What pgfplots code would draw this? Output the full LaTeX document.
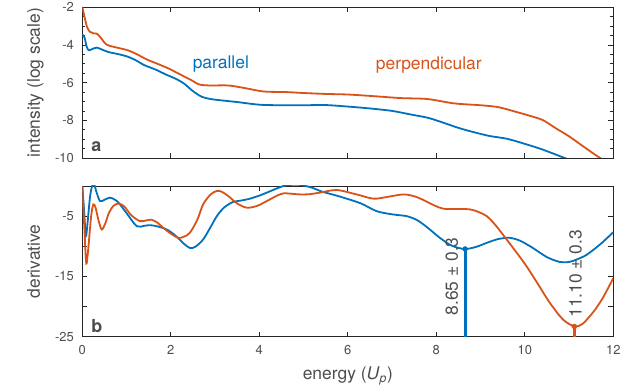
\documentclass[border=0pt]{standalone}
\usepackage{pgfplots}
\pgfplotsset{compat=1.18}
\usepackage{fontspec}
\setmainfont{TeX Gyre Heros}
\definecolor{mblue}{HTML}{0072BD}
\definecolor{morange}{HTML}{D95319}
\definecolor{txtgray}{HTML}{4D4D4D}
\definecolor{axgray}{HTML}{262626}
\begin{document}
\begin{tikzpicture}
\path[use as bounding box] (0,0) rectangle (623bp,386bp);
\pgfplotsset{
  myax/.style={
    scale only axis, width=531bp, height=150.7bp, anchor=south west,
    xmin=0, xmax=12, xtick={0,2,...,12},
    tick align=inside, major tick length=5bp, minor tick length=3bp,
    axis line style={line width=0.9bp, axgray},
    every tick/.style={axgray, line width=0.8bp},
    tick label style={font=\fontsize{13}{15}\selectfont, text=txtgray},
    xticklabel style={yshift=-5.5bp},
    yticklabel style={xshift=-5bp},
    /pgf/number format/assume math mode=true,
    every axis y label/.style={at={(axis description cs:-0.0797,0.5)}, rotate=90, anchor=base,
      font=\fontsize{17.5}{20}\selectfont, text=txtgray},
    every axis x label/.style={at={(axis description cs:0.5,-0.2873)}, anchor=base,
      font=\fontsize{17.5}{20}\selectfont, text=txtgray},
    clip=true,
  },
  curve/.style={line width=1.8bp, smooth, tension=0.5, no marks},
}
% ---------------- panel a ----------------
\begin{axis}[myax, at={(82.3bp,228bp)},
  ymin=-10, ymax=-2, ytick={-10,-8,...,-2},
  yticklabels={\textnormal{-10},\textnormal{-8},\textnormal{-6},\textnormal{-4},\textnormal{-2}},
  minor y tick num=3,
  xticklabel=\empty,
  ylabel={intensity (log scale)}]
\addplot[curve, morange] coordinates {
(0.0,-2.0) (0.05,-2.5) (0.1,-3.0) (0.17,-3.3) (0.25,-3.38) (0.33,-3.4) (0.42,-3.62)
(0.55,-3.98) (0.8,-4.15) (1.0,-4.26) (1.2,-4.45) (1.45,-4.76) (1.7,-5.0) (1.95,-5.25)
(2.2,-5.55) (2.45,-5.85) (2.65,-6.1) (2.9,-6.15) (3.3,-6.15) (3.7,-6.3) (4.1,-6.47)
(4.6,-6.5) (5.0,-6.55) (5.5,-6.6) (6.0,-6.63) (6.6,-6.72) (7.2,-6.82) (7.8,-6.87)
(8.4,-7.1) (9.0,-7.2) (9.4,-7.3) (9.8,-7.55) (10.1,-7.75) (10.4,-7.98) (10.7,-8.42)
(11.0,-8.85) (11.3,-9.35) (11.7,-10.0) (12.0,-10.4)};
\addplot[curve, mblue] coordinates {
(0.0,-3.45) (0.05,-3.6) (0.1,-4.1) (0.15,-4.28) (0.22,-4.22) (0.33,-4.14) (0.45,-4.25)
(0.6,-4.38) (0.8,-4.48) (1.0,-4.6) (1.2,-4.8) (1.4,-5.07) (1.65,-5.3) (1.9,-5.58)
(2.1,-5.78) (2.3,-6.05) (2.5,-6.45) (2.7,-6.75) (2.9,-6.87) (3.1,-6.93) (3.5,-7.03)
(4.0,-7.17) (4.5,-7.2) (5.0,-7.2) (5.5,-7.19) (6.0,-7.27) (6.5,-7.37) (7.0,-7.5)
(7.4,-7.68) (7.8,-7.86) (8.1,-8.08) (8.5,-8.4) (8.8,-8.6) (9.2,-8.83) (9.6,-8.98)
(10.0,-9.25) (10.4,-9.55) (10.9,-10.0) (11.3,-10.35)};
\node[anchor=base, text=mblue, font=\fontsize{17.5}{20}\selectfont] at (axis cs:3.13,-5.23) {parallel};
\node[anchor=base, text=morange, font=\fontsize{17.5}{20}\selectfont] at (axis cs:7.83,-5.28) {perpendicular};
\node[anchor=base west, inner sep=0pt, text=txtgray, font=\fontsize{18}{20}\selectfont\bfseries] at (axis cs:0.2,-9.65) {a};
\end{axis}
% ---------------- panel b ----------------
\begin{axis}[myax, at={(82.3bp,49.3bp)},
  ymin=-25, ymax=0, ytick={-25,-20,...,0},
  yticklabels={\textnormal{-25},,\textnormal{-15},,\textnormal{-5},},
  ylabel={derivative},
  xlabel={energy (\textit{U}\textsubscript{\textit{p}})}]
\addplot[curve, mblue] coordinates {
(0.0,0) (0.04,-4) (0.08,-8.3) (0.12,-6) (0.18,-1.5) (0.25,0.5) (0.32,-1.0) (0.4,-2.5)
(0.5,-2.3) (0.62,-1.93) (0.72,-2.2) (0.82,-2.77) (1.0,-4.5) (1.23,-6.67) (1.4,-6.6)
(1.53,-6.5) (1.7,-6.7) (1.91,-7.22) (2.1,-8.2) (2.3,-9.6) (2.43,-10.27) (2.55,-10.1)
(2.73,-8.88) (2.9,-6.8) (3.04,-5.0) (3.2,-3.6) (3.4,-2.67) (3.6,-2.4) (3.79,-2.1)
(4.0,-1.6) (4.17,-1.1) (4.4,-0.4) (4.6,0.1) (4.9,0.2) (5.2,-0.3) (5.4,-0.9) (5.65,-1.4)
(5.9,-1.93) (6.3,-2.9) (6.65,-4.17) (7.0,-4.7) (7.33,-5.0) (7.55,-5.6) (7.71,-6.38)
(7.9,-7.5) (8.08,-8.6) (8.35,-9.9) (8.64,-10.45) (8.9,-10.1) (9.14,-9.43) (9.4,-8.8)
(9.66,-8.6) (9.9,-9.1) (10.18,-10.27) (10.5,-11.8) (10.79,-12.6) (11.0,-12.6)
(11.17,-12.2) (11.4,-11.4) (11.7,-9.7) (12.0,-7.67)};
\addplot[curve, morange] coordinates {
(0.0,0) (0.04,-6) (0.08,-12) (0.1,-12.8) (0.14,-10) (0.2,-5) (0.25,-3.05) (0.3,-3.6)
(0.37,-5.8) (0.44,-7.22) (0.52,-6.2) (0.6,-4.5) (0.7,-3.33) (0.82,-2.9) (0.95,-3.4)
(1.1,-4.8) (1.3,-5.83) (1.45,-5.7) (1.57,-5.6) (1.7,-6.1) (1.83,-6.94) (2.0,-7.9)
(2.17,-8.6) (2.3,-8.4) (2.43,-7.77) (2.6,-5.6) (2.73,-3.05) (2.9,-1.4) (3.04,-0.83)
(3.15,-0.95) (3.3,-1.67) (3.5,-2.9) (3.72,-3.6) (3.95,-3.3) (4.17,-2.5) (4.4,-1.6)
(4.55,-1.22) (4.75,-1.3) (4.93,-1.4) (5.15,-1.35) (5.37,-1.1) (5.75,-0.67) (6.2,-1.4)
(6.58,-2.1) (6.9,-1.8) (7.25,-1.4) (7.5,-1.7) (7.71,-2.33) (7.95,-3.2) (8.16,-3.77)
(8.45,-3.8) (8.76,-3.88) (8.95,-4.3) (9.14,-5.0) (9.35,-6.6) (9.59,-8.88) (9.8,-10.9)
(10.04,-13.33) (10.3,-16.3) (10.57,-19.43) (10.87,-22.2) (11.13,-23.3) (11.3,-22.9)
(11.46,-21.67) (11.6,-20.4) (11.76,-18.6) (11.9,-16.7) (12.0,-15.27)};
% stems
\addplot[mblue, line width=3bp] coordinates {(8.65,-25) (8.65,-10.45)};
\addplot[morange, line width=3bp] coordinates {(11.12,-25) (11.12,-23.3)};
\addplot[only marks, mark=*, mark size=2.5bp, mblue] coordinates {(8.65,-10.45)};
\addplot[only marks, mark=*, mark size=2.5bp, morange] coordinates {(11.12,-23.3)};
\node[rotate=90, text=txtgray, font=\fontsize{17.5}{20}\selectfont] at (axis cs:8.35,-15.0) {8.65 ± 0.3};
\node[rotate=90, text=txtgray, font=\fontsize{17.5}{20}\selectfont] at (axis cs:11.15,-14.55) {11.10 ± 0.3};
\node[anchor=base west, inner sep=0pt, text=txtgray, font=\fontsize{18}{20}\selectfont\bfseries] at (axis cs:0.2,-24.27) {b};
\end{axis}
\end{tikzpicture}
\end{document}
